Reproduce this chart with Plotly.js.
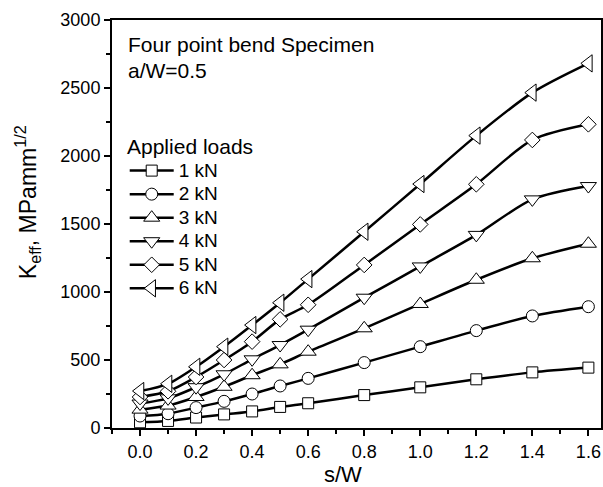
<!DOCTYPE html>
<html>
<head>
<meta charset="utf-8">
<script src="https://cdn.plot.ly/plotly-3.0.1.min.js"></script>
<style>html,body{margin:0;padding:0;background:#fff;}#chart{width:603px;height:487px;}</style>
</head>
<body>
<div id="chart"></div>
<script>
const sW = [0, 0.1, 0.2, 0.3, 0.4, 0.5, 0.6, 0.8, 1.0, 1.2, 1.4, 1.6];
const load1 = [42, 52, 77, 100, 122, 155, 182, 242, 299, 358, 409, 444];
const load2 = [88, 105, 150, 196, 250, 309, 365, 481, 598, 716, 824, 892];
const load3 = [135, 165, 228, 303, 388, 468, 561, 733, 912, 1090, 1248, 1355];
const load4 = [180, 218, 300, 395, 505, 610, 723, 958, 1188, 1420, 1681, 1779];
const load5 = [228, 270, 375, 500, 635, 799, 906, 1199, 1497, 1792, 2118, 2233];
const load6 = [272, 325, 450, 598, 757, 921, 1095, 1443, 1794, 2150, 2466, 2681];
const seriesNames = ['1 kN', '2 kN', '3 kN', '4 kN', '5 kN', '6 kN'];
const seriesValues = [load1, load2, load3, load4, load5, load6];
const symbols = ['square', 'circle', 'triangle-up', 'triangle-down', 'diamond', 'triangle-left'];
const sizes = [11, 12, 14, 14, 12, 15];

const xTitle = 's/W';
const yTitle = 'K<sub>eff</sub>, MPamm<sup>1/2</sup>';
const noteLines = ['Four point bend Specimen', 'a/W=0.5'];
const legendHeading = 'Applied loads';

const FONT = 'Arial, "Liberation Sans", sans-serif';

const traces = seriesValues.map((vals, i) => ({
  x: sW,
  y: vals,
  name: '<span style="font-size:19px">' + seriesNames[i] + '</span>',
  type: 'scatter',
  mode: 'lines+markers',
  line: {color: '#000', width: 2.5, shape: 'spline', smoothing: 0.8},
  marker: {symbol: symbols[i], size: sizes[i], color: '#fff', line: {color: '#000', width: 1}}
}));

const layout = {
  width: 603, height: 487,
  margin: {l: 112, r: 2, t: 20, b: 59},
  paper_bgcolor: '#fff', plot_bgcolor: '#fff',
  font: {family: FONT, color: '#000', size: 18},
  showlegend: true,
  legend: {
    x: 0.026, y: 0.672, xanchor: 'left', yanchor: 'top',
    bgcolor: 'rgba(0,0,0,0)',
    font: {size: 15.8, family: FONT},
    tracegroupgap: 0,
    itemwidth: 44
  },
  xaxis: {
    range: [-0.1, 1.645],
    tick0: 0, dtick: 0.2, tickformat: '.1f',
    ticks: 'outside', ticklen: 6, tickwidth: 2, tickcolor: '#000',
    minor: {dtick: 0.1, ticks: 'outside', ticklen: 4, tickwidth: 2, tickcolor: '#000'},
    showline: true, linewidth: 2, linecolor: '#000', mirror: true,
    showgrid: false, zeroline: false,
    tickfont: {size: 18}
  },
  yaxis: {
    range: [0, 3000],
    tick0: 0, dtick: 500,
    ticks: 'outside', ticklen: 6, tickwidth: 2, tickcolor: '#000',
    minor: {dtick: 250, ticks: 'outside', ticklen: 4, tickwidth: 2, tickcolor: '#000'},
    showline: true, linewidth: 2, linecolor: '#000', mirror: true,
    showgrid: false, zeroline: false,
    tickfont: {size: 18}
  },
  annotations: [
    {text: noteLines[0], xref: 'paper', yref: 'paper', x: 0.029, y: 0.939, xanchor: 'left', yanchor: 'middle', showarrow: false, font: {size: 21, family: FONT}},
    {text: noteLines[1], xref: 'paper', yref: 'paper', x: 0.029, y: 0.877, xanchor: 'left', yanchor: 'middle', showarrow: false, font: {size: 21, family: FONT}},
    {text: legendHeading, xref: 'paper', yref: 'paper', x: 0.027, y: 0.689, xanchor: 'left', yanchor: 'middle', showarrow: false, font: {size: 21, family: FONT}},
    {text: xTitle, xref: 'paper', yref: 'paper', x: 0.473, y: -0.115, xanchor: 'center', yanchor: 'middle', showarrow: false, font: {size: 22, family: FONT}},
    {text: yTitle, xref: 'paper', yref: 'paper', x: -0.1735, y: 0.554, xanchor: 'center', yanchor: 'middle', textangle: -90, showarrow: false, font: {size: 23, family: FONT}}
  ]
};

Plotly.newPlot('chart', traces, layout, {displayModeBar: false, staticPlot: true});
</script>
</body>
</html>
